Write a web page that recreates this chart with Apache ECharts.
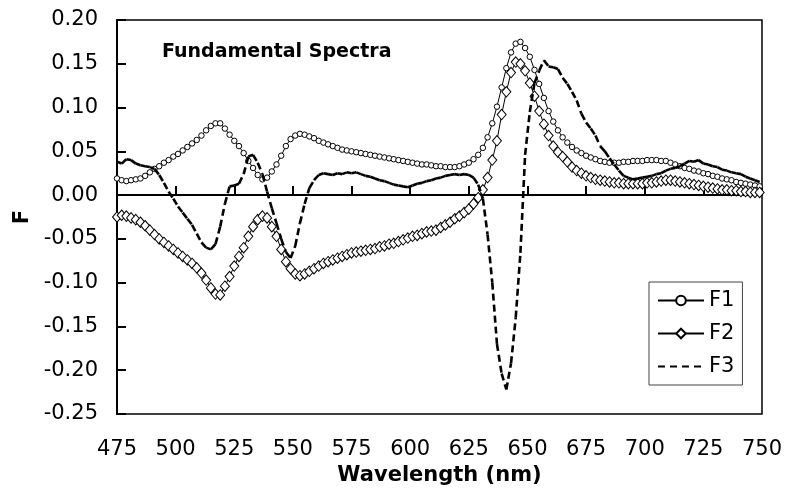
<!DOCTYPE html>
<html><head><meta charset="utf-8">
<script src="https://cdn.jsdelivr.net/npm/echarts@6/dist/echarts.min.js"></script>
<style>html,body{margin:0;padding:0;background:#fff}#c{width:786px;height:504px}</style>
</head><body><div id="c"></div>
<script>
// wavelength grid (nm), sampled every 2 nm
const wavelengths = [];
for (let w = 475; w <= 749; w += 2) wavelengths.push(w);

const f1 = [
  0.019, 0.017, 0.016, 0.017, 0.018, 0.019, 0.022, 0.026, 0.030, 0.033,
  0.037, 0.040, 0.044, 0.047, 0.051, 0.055, 0.059, 0.063, 0.068, 0.074,
  0.079, 0.082, 0.082, 0.076, 0.069, 0.062, 0.056, 0.048, 0.039, 0.031,
  0.023, 0.018, 0.020, 0.027, 0.035, 0.045, 0.056, 0.064, 0.068, 0.070,
  0.069, 0.067, 0.065, 0.062, 0.060, 0.058, 0.056, 0.054, 0.052, 0.051,
  0.050, 0.049, 0.048, 0.047, 0.046, 0.045, 0.044, 0.043, 0.042, 0.041,
  0.040, 0.039, 0.038, 0.037, 0.036, 0.035, 0.035, 0.034, 0.033, 0.033,
  0.032, 0.032, 0.032, 0.033, 0.035, 0.037, 0.041, 0.046, 0.054, 0.066,
  0.082, 0.101, 0.123, 0.145, 0.163, 0.173, 0.175, 0.168, 0.158, 0.143,
  0.127, 0.111, 0.096, 0.084, 0.074, 0.066, 0.060, 0.055, 0.051, 0.048,
  0.045, 0.043, 0.041, 0.039, 0.038, 0.037, 0.037, 0.037, 0.038, 0.038,
  0.039, 0.039, 0.039, 0.040, 0.040, 0.040, 0.039, 0.039, 0.037, 0.035,
  0.033, 0.031, 0.030, 0.028, 0.027, 0.025, 0.024, 0.022, 0.021, 0.019,
  0.018, 0.017, 0.015, 0.014, 0.013, 0.012, 0.011, 0.010
];

const f2 = [
  -0.025, -0.023, -0.024, -0.026, -0.028, -0.031, -0.035, -0.040, -0.045, -0.050,
  -0.054, -0.058, -0.062, -0.066, -0.070, -0.074, -0.078, -0.083, -0.089, -0.097,
  -0.106, -0.113, -0.114, -0.104, -0.093, -0.081, -0.070, -0.060, -0.047, -0.036,
  -0.028, -0.024, -0.026, -0.036, -0.047, -0.062, -0.076, -0.084, -0.090, -0.092,
  -0.090, -0.087, -0.084, -0.081, -0.078, -0.076, -0.074, -0.072, -0.070, -0.068,
  -0.066, -0.065, -0.064, -0.063, -0.062, -0.061, -0.059, -0.058, -0.056, -0.055,
  -0.053, -0.051, -0.049, -0.047, -0.046, -0.044, -0.042, -0.041, -0.040, -0.037,
  -0.034, -0.031, -0.027, -0.024, -0.020, -0.016, -0.010, -0.003, 0.006, 0.020,
  0.040, 0.062, 0.092, 0.118, 0.140, 0.152, 0.150, 0.142, 0.128, 0.113,
  0.096, 0.081, 0.068, 0.056, 0.049, 0.044, 0.038, 0.032, 0.028, 0.025,
  0.022, 0.020, 0.018, 0.017, 0.016, 0.015, 0.014, 0.014, 0.013, 0.013,
  0.013, 0.013, 0.013, 0.014, 0.014, 0.015, 0.016, 0.017, 0.017, 0.016,
  0.015, 0.014, 0.013, 0.012, 0.011, 0.010, 0.009, 0.008, 0.007, 0.006,
  0.006, 0.005, 0.005, 0.004, 0.004, 0.003, 0.003, 0.003
];

const f3 = [
  0.038, 0.036, 0.041, 0.040, 0.036, 0.034, 0.033, 0.032, 0.030, 0.023,
  0.014, 0.004, -0.004, -0.013, -0.020, -0.027, -0.034, -0.044, -0.054, -0.060,
  -0.062, -0.056, -0.036, -0.010, 0.010, 0.011, 0.013, 0.024, 0.044, 0.046,
  0.037, 0.024, 0.004, -0.015, -0.032, -0.050, -0.065, -0.072, -0.058, -0.032,
  -0.010, 0.008, 0.017, 0.023, 0.025, 0.024, 0.023, 0.025, 0.024, 0.026,
  0.025, 0.026, 0.024, 0.022, 0.021, 0.019, 0.017, 0.016, 0.014, 0.012,
  0.011, 0.010, 0.009, 0.011, 0.013, 0.014, 0.016, 0.017, 0.019, 0.020,
  0.022, 0.023, 0.024, 0.023, 0.024, 0.023, 0.020, 0.012, -0.004, -0.045,
  -0.100, -0.170, -0.204, -0.222, -0.192, -0.140, -0.066, 0.046, 0.095, 0.128,
  0.142, 0.154, 0.147, 0.146, 0.144, 0.134, 0.127, 0.118, 0.108, 0.093,
  0.083, 0.076, 0.068, 0.056, 0.050, 0.042, 0.035, 0.028, 0.022, 0.020,
  0.018, 0.019, 0.020, 0.021, 0.022, 0.024, 0.025, 0.028, 0.030, 0.031,
  0.033, 0.036, 0.039, 0.038, 0.040, 0.036, 0.035, 0.033, 0.032, 0.029,
  0.028, 0.026, 0.025, 0.024, 0.021, 0.019, 0.017, 0.015
];

const xAxisRange = { min: 475, max: 750, interval: 25 };
const yAxisRange = { min: -0.25, max: 0.20, interval: 0.05 };
const seriesNames = ['F1', 'F2', 'F3'];

const FONT = 'DejaVu Sans';
const pair = (arr) => arr.map((v, i) => [wavelengths[i], v]);

const chart = echarts.init(document.getElementById('c'), null, { renderer: 'canvas' });
chart.setOption({
  animation: false,
  backgroundColor: '#fff',
  title: {
    text: 'Fundamental Spectra', left: 157, top: 38,
    textStyle: { fontFamily: FONT, fontWeight: 'bold', fontSize: 19, color: '#000' }
  },
  grid: { left: 117, right: 24, top: 20, bottom: 90, show: true, borderColor: '#000', borderWidth: 1.5 },
  legend: {
    data: seriesNames, orient: 'vertical', left: 649, top: 282,
    padding: [8, 8, 8, 8], itemWidth: 46, itemHeight: 12, itemGap: 12,
    borderColor: '#444', borderWidth: 1, backgroundColor: '#fff',
    textStyle: { fontFamily: FONT, fontSize: 21, color: '#000' },
    selectedMode: false
  },
  xAxis: {
    type: 'value', min: xAxisRange.min, max: xAxisRange.max, interval: xAxisRange.interval,
    name: 'Wavelength (nm)', nameLocation: 'middle', nameGap: 49,
    nameTextStyle: { fontFamily: FONT, fontWeight: 'bold', fontSize: 21, color: '#000' },
    axisLine: { lineStyle: { color: '#000', width: 2 } },
    axisTick: { inside: true, length: 9, lineStyle: { color: '#000', width: 2 } },
    axisLabel: { margin: 25, fontFamily: FONT, fontSize: 21, color: '#000' },
    splitLine: { show: false }
  },
  yAxis: {
    type: 'value', min: yAxisRange.min, max: yAxisRange.max, interval: yAxisRange.interval,
    name: 'F', nameLocation: 'middle', nameGap: 80, nameRotate: 90,
    nameTextStyle: { fontFamily: FONT, fontWeight: 'bold', fontSize: 21, color: '#000' },
    axisLine: { onZero: false, lineStyle: { color: '#000', width: 2 } },
    axisTick: { inside: true, length: 9, lineStyle: { color: '#000', width: 2 } },
    axisLabel: {
      margin: 19, fontFamily: FONT, fontSize: 21, color: '#000',
      formatter: v => (Math.abs(v) < 1e-9 ? 0 : v).toFixed(2)
    },
    splitLine: { show: false }
  },
  series: [
    {
      name: 'F1', type: 'line', data: pair(f1), z: 2,
      symbol: 'circle', symbolSize: 5.5, showAllSymbol: true,
      lineStyle: { color: '#000', width: 1 },
      itemStyle: { color: '#fff', borderColor: '#000', borderWidth: 1 }
    },
    {
      name: 'F2', type: 'line', data: pair(f2), z: 3,
      symbol: 'diamond', symbolSize: [9, 10.5], showAllSymbol: true,
      lineStyle: { color: '#000', width: 1 },
      itemStyle: { color: '#fff', borderColor: '#000', borderWidth: 1 }
    },
    {
      // legend entry for F3 (the trace itself is drawn segment by segment below)
      name: 'F3', type: 'line', data: [], symbol: 'none',
      lineStyle: { color: '#000', width: 3, type: [7, 5] },
      itemStyle: { color: 'rgba(0,0,0,0)', borderWidth: 0 }
    },
    {
      name: 'F3 trace', type: 'custom', z: 4,
      data: pair(f3),
      encode: { x: 0, y: 1 },
      renderItem: function (params, api) {
        const i = params.dataIndex;
        if (i >= f3.length - 1) return null;
        const p0 = api.coord([wavelengths[i], f3[i]]);
        const p1 = api.coord([wavelengths[i + 1], f3[i + 1]]);
        return {
          type: 'line',
          shape: { x1: p0[0], y1: p0[1], x2: p1[0], y2: p1[1] },
          style: { stroke: '#000', lineWidth: 2.6, lineDash: [7, 4], lineCap: 'butt' }
        };
      }
    }
  ]
});
</script>
</body></html>
